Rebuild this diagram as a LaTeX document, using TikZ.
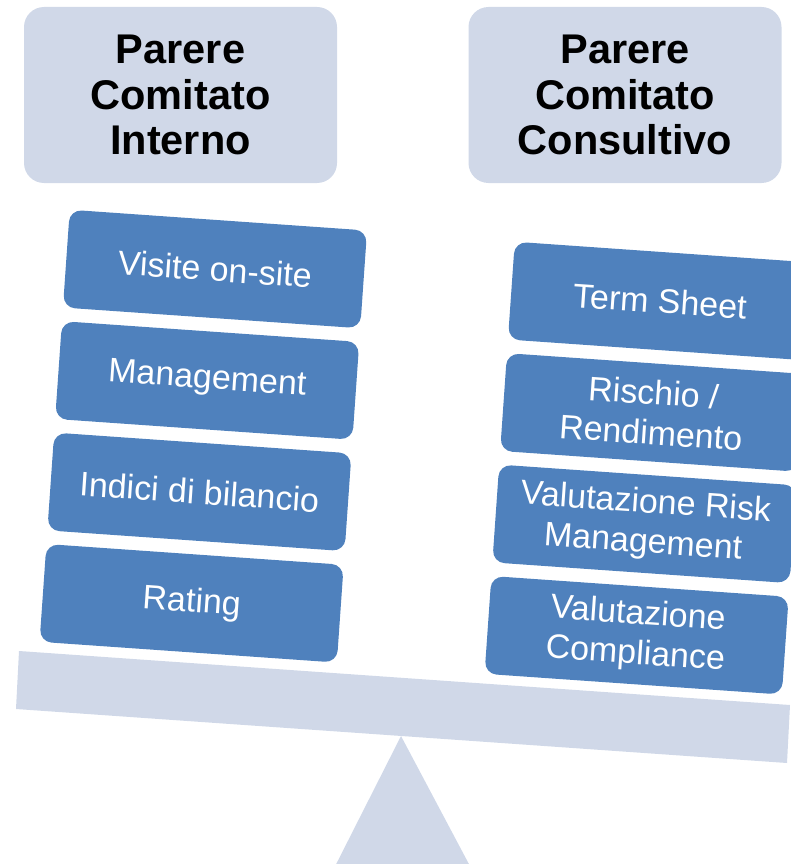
\documentclass[tikz,border=0pt]{standalone}
\usepackage{fontspec}
\setmainfont{Liberation Sans}
\definecolor{panelgray}{RGB}{208,216,232}
\definecolor{itemblue}{RGB}{79,129,189}
\def\tilt{-4}
\def\gap{111.7}

\begin{document}
\begin{tikzpicture}[x=1pt,y=-1pt,
    titlebox/.style={fill=panelgray,rounded corners=20pt,minimum width=313pt,
      minimum height=176pt,align=center,
      font=\fontsize{41.5}{45.5}\selectfont\bfseries},
    itembox/.style={fill=itemblue,rounded corners=12pt,minimum width=298pt,
      minimum height=98pt,align=center,text=white,rotate=\tilt,
      font=\fontsize{34}{40}\selectfont}]
  \useasboundingbox (0,0) rectangle (791,864);
  \clip (0,0) rectangle (791,864);
  % fulcrum and beam
  \fill[panelgray] (401,736) -- (318,900) -- (488,900) -- cycle;
  \fill[panelgray] (19,651) -- (790,705) -- (787,763) -- (16,709) -- cycle;
  % the two headings
  \node[titlebox] (interno) at (180.5,95) {Parere\\Comitato\\Interno};
  \node[titlebox] (consultivo) at (625,95) {Parere\\Comitato\\Consultivo};
  % left pan
  \foreach \i/\name/\label in {
      0/visite/Visite on-site,
      1/management/Management,
      2/indici/Indici di bilancio,
      3/rating/Rating%
    } {
      \node[itembox] (\name) at ({215+sin(\tilt)*\gap*\i},{269+cos(\tilt)*\gap*\i}) {\label};
    }
  % right pan
  \foreach \i/\name/\label in {
      0/term/Term Sheet,
      1/rischio/{Rischio /\\Rendimento},
      2/risk/{Valutazione Risk\\Management},
      3/compliance/{Valutazione\\Compliance}%
    } {
      \node[itembox] (\name) at ({660+sin(\tilt)*\gap*\i},{301+cos(\tilt)*\gap*\i}) {\label};
    }
\end{tikzpicture}
\end{document}
